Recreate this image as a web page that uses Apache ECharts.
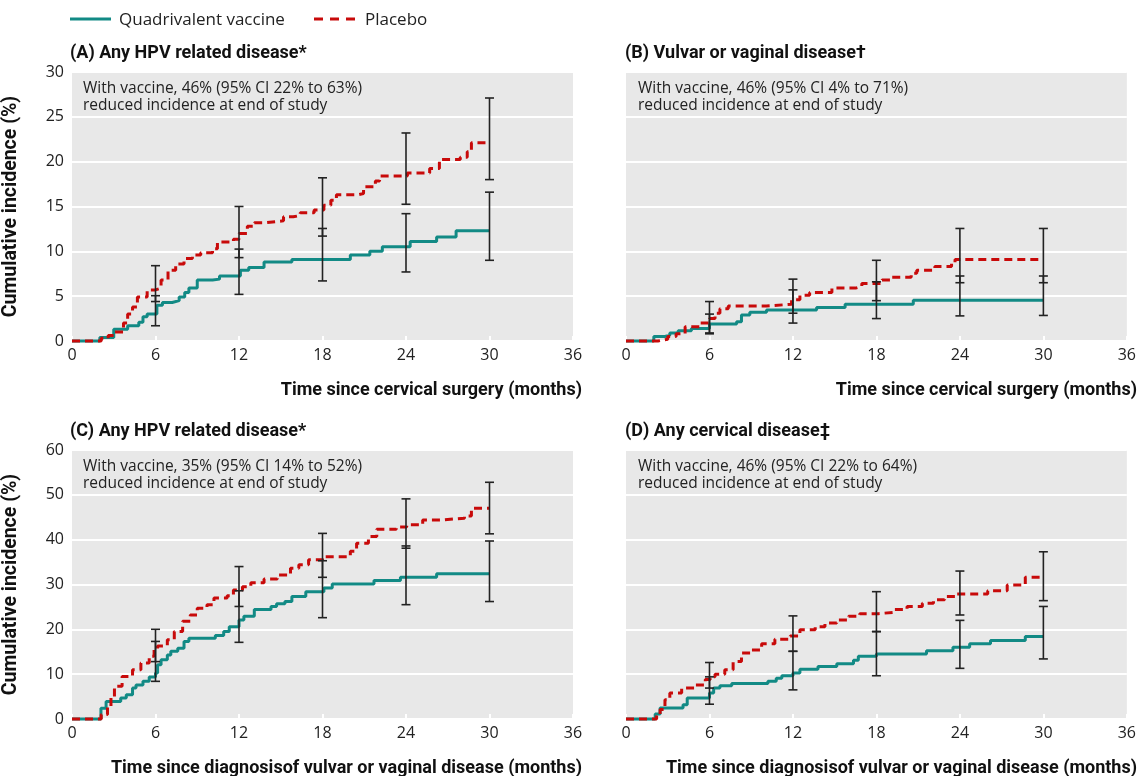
<!DOCTYPE html>
<html>
<head>
<meta charset="utf-8">
<script src="https://cdn.jsdelivr.net/npm/echarts@6/dist/echarts.min.js"></script>
<style>
html,body{margin:0;padding:0;background:#fff;}
#chart{width:1139px;height:776px;}
</style>
</head>
<body>
<div id="chart"></div>
<script>
// ---------- data ----------
const xTicks = [0, 6, 12, 18, 24, 30, 36];
const yTicksTop = [0, 5, 10, 15, 20, 25, 30];
const yTicksBottom = [0, 10, 20, 30, 40, 50, 60];
const seriesNames = ['Quadrivalent vaccine', 'Placebo'];
const panelTitles = ['(A) Any HPV related disease*', '(B) Vulvar or vaginal disease\u2020', '(C) Any HPV related disease*', '(D) Any cervical disease\u2021'];
const panelNotes = [
  'With vaccine, 46% (95% CI 22% to 63%)\nreduced incidence at end of study',
  'With vaccine, 46% (95% CI 4% to 71%)\nreduced incidence at end of study',
  'With vaccine, 35% (95% CI 14% to 52%)\nreduced incidence at end of study',
  'With vaccine, 46% (95% CI 22% to 64%)\nreduced incidence at end of study'
];
const xTitles = ['Time since cervical surgery (months)', 'Time since cervical surgery (months)',
  'Time since diagnosisof vulvar or vaginal disease (months)', 'Time since diagnosisof vulvar or vaginal disease (months)'];
const yTitle = 'Cumulative incidence (%)';

const vaccineA = [[0,0],[2.0,0.4],[3.0,1.3],[4.0,1.7],[4.8,2.1],[5.1,2.7],[5.4,3.0],[6.1,4.0],[6.5,4.3],[7.2,4.5],[7.7,4.9],[8.1,5.4],[8.4,5.9],[9.0,6.8],[10.1,6.9],[10.6,7.25],[12.1,7.9],[12.7,8.2],[13.8,8.8],[15.8,9.1],[20.0,9.6],[21.4,10.0],[22.3,10.5],[24.3,11.1],[26.2,11.6],[27.6,12.3],[30,12.3]];
const placeboA = [[0,0],[2.1,0.3],[2.6,0.6],[3.0,1.0],[3.7,2.0],[4.0,3.0],[4.35,3.8],[4.7,4.9],[5.4,5.7],[6.0,5.9],[6.4,6.8],[6.9,7.9],[7.45,8.6],[8.05,9.2],[8.65,9.6],[9.25,9.85],[10.1,10.3],[10.45,11.05],[11.6,11.35],[12.0,12.0],[12.6,12.8],[13.1,13.2],[14.0,13.4],[15.2,13.85],[15.9,14.0],[16.4,14.3],[17.4,14.6],[18.1,15.15],[18.6,15.7],[19.0,16.3],[20.5,16.45],[20.95,17.2],[21.8,17.85],[22.1,18.4],[24.1,18.75],[25.7,19.25],[26.4,20.25],[27.9,20.5],[28.4,21.1],[28.7,22.1],[30,22.1]];
const ciVaccineA = [[6,1.7,5.05],[12,5.2,10.25],[18,6.7,12.55],[24,7.7,14.2],[30,9.0,16.6]];
const ciPlaceboA = [[6,4.4,8.4],[12,9.3,15.0],[18,11.7,18.2],[24,15.25,23.2],[30,18.0,27.1]];

const vaccineB = [[0,0],[2.0,0.5],[2.8,0.65],[3.15,0.9],[3.75,1.15],[4.7,1.4],[6.0,1.9],[7.95,2.15],[8.3,2.9],[8.9,3.2],[10.1,3.45],[13.7,3.75],[15.75,4.1],[20.65,4.55],[30,4.55]];
const placeboB = [[0,0],[2.3,0.2],[3.0,0.5],[3.6,0.8],[4.25,1.6],[5.3,2.0],[6.0,2.5],[6.4,3.1],[6.75,3.6],[7.35,3.9],[10.1,4.1],[11.9,4.6],[12.5,5.1],[13.2,5.4],[14.8,5.9],[16.5,6.1],[16.95,6.4],[18.4,6.8],[19.1,7.1],[20.5,7.55],[20.9,7.9],[22.2,8.3],[23.4,8.65],[23.65,9.1],[30,9.1]];
const ciVaccineB = [[6,0.8,3.0],[12,2.0,5.7],[18,2.5,6.6],[24,2.8,7.25],[30,2.85,7.25]];
const ciPlaceboB = [[6,0.9,4.4],[12,3.1,6.9],[18,4.5,9.0],[24,6.5,12.55],[30,6.5,12.55]];

const vaccineC = [[0,0],[2.08,2.4],[2.45,3.9],[3.5,4.7],[3.9,5.4],[4.35,6.9],[4.6,7.6],[5.1,8.4],[5.55,9.35],[6.0,10.25],[6.15,12.1],[6.4,13.2],[6.85,14.3],[7.1,15.1],[7.6,15.8],[8.05,17.3],[8.4,18.0],[10.3,18.6],[10.9,19.5],[11.3,20.6],[12.0,22.1],[12.35,22.9],[13.1,24.4],[14.3,25.1],[14.7,25.7],[15.3,26.2],[15.8,27.3],[16.8,28.4],[18.1,29.2],[18.7,30.1],[21.7,30.9],[23.6,31.6],[26.2,32.4],[30,32.4]];
const placeboC = [[0,0],[2.1,1.0],[2.55,2.8],[2.8,5.0],[3.05,7.3],[3.6,9.5],[4.35,11.0],[4.95,12.5],[5.55,14.0],[5.9,15.4],[6.15,16.3],[6.85,17.7],[7.35,19.5],[7.95,21.8],[8.5,23.2],[9.0,24.7],[9.7,25.5],[10.2,27.0],[11.15,27.5],[11.6,28.8],[12.25,29.5],[12.85,30.4],[13.8,31.2],[14.75,32.1],[15.7,33.6],[16.3,34.4],[17.0,35.5],[18.0,36.2],[20.0,37.4],[20.45,39.2],[21.3,40.7],[21.9,42.3],[23.3,42.8],[24.05,43.3],[25.2,44.4],[26.55,44.8],[28.2,45.3],[28.7,47.0],[30,47.0]];
const ciVaccineC = [[6,8.4,17.3],[12,17.1,28.6],[18,22.6,35.3],[24,25.5,38.6],[30,26.2,39.7]];
const ciPlaceboC = [[6,12.8,20.0],[12,25.1,34.0],[18,31.6,41.4],[24,38.1,49.1],[30,41.3,52.8]];

const vaccineD = [[0,0],[2.1,1.1],[2.45,2.45],[4.1,3.2],[4.4,4.7],[6.0,5.8],[6.3,6.9],[6.75,7.4],[7.6,7.9],[10.2,8.4],[10.8,9.1],[11.2,9.65],[12.0,10.25],[12.5,11.1],[13.8,11.7],[15.15,12.3],[16.35,13.1],[16.7,14.0],[18.0,14.5],[21.6,15.2],[23.5,16.0],[24.7,16.8],[26.2,17.5],[28.7,18.4],[30,18.4]];
const placeboD = [[0,0],[2.2,0.8],[2.45,2.1],[2.8,4.3],[3.15,5.8],[4.0,6.9],[4.95,7.6],[5.7,8.8],[6.05,9.4],[6.4,10.0],[7.1,11.0],[7.7,12.8],[8.3,14.7],[9.0,15.4],[9.75,16.8],[10.7,17.8],[11.8,18.5],[12.5,19.9],[13.6,20.6],[14.3,21.4],[15.15,22.1],[16.0,22.9],[16.8,23.5],[18.15,23.8],[19.3,24.4],[20.2,25.1],[21.3,25.8],[22.1,26.6],[22.9,27.3],[23.65,27.9],[26.0,28.6],[27.4,29.9],[28.7,31.6],[30,31.6]];
const ciVaccineD = [[6,3.3,9.4],[12,6.5,15.1],[18,9.65,19.5],[24,11.3,22.0],[30,13.4,25.1]];
const ciPlaceboD = [[6,6.9,12.6],[12,15.1,23.0],[18,19.5,28.4],[24,23.2,33.0],[30,26.4,37.3]];

// ---------- build ----------
const vaccineSets = [vaccineA, vaccineB, vaccineC, vaccineD];
const placeboSets = [placeboA, placeboB, placeboC, placeboD];
const ciVaccineSets = [ciVaccineA, ciVaccineB, ciVaccineC, ciVaccineD];
const ciPlaceboSets = [ciPlaceboA, ciPlaceboB, ciPlaceboC, ciPlaceboD];
const yTickSets = [yTicksTop, yTicksTop, yTicksBottom, yTicksBottom];

const TEAL = '#128a85';
const RED = '#c80a0a';
const BG = '#e8e8e8';
const FONT = "'Open Sans', 'Noto Sans', sans-serif";
const TFONT = "'Roboto', 'Open Sans', sans-serif";
const DASH = [8, 5];

const gridPos = [
  {left: 71, top: 72, width: 502, height: 269},
  {left: 626, top: 72, width: 501, height: 269},
  {left: 71, top: 450, width: 502, height: 269},
  {left: 626, top: 450, width: 501, height: 269}
];

const grids = gridPos.map(g => Object.assign({show: true, backgroundColor: BG, borderWidth: 0, containLabel: false}, g));

const xAxes = gridPos.map((g, i) => ({
  type: 'value', gridIndex: i, min: xTicks[0], max: xTicks[xTicks.length - 1],
  interval: xTicks[1] - xTicks[0],
  axisLine: {show: false},
  axisTick: {show: true, inside: true, length: 5, lineStyle: {color: '#fff', width: 2}},
  axisLabel: {show: true, fontSize: 16, color: '#222', margin: 6, fontFamily: FONT},
  splitLine: {show: false}
}));

const yAxes = gridPos.map((g, i) => {
  const t = yTickSets[i];
  const showLab = (i % 2 === 0);
  return {
    type: 'value', gridIndex: i, min: t[0], max: t[t.length - 1], interval: t[1] - t[0],
    axisLine: {show: false}, axisTick: {show: false},
    axisLabel: {show: showLab, fontSize: 16, color: '#222', margin: 8, fontFamily: FONT},
    splitLine: {show: true, lineStyle: {color: '#ffffff', width: 2}},
    name: showLab ? yTitle : '',
    nameLocation: 'middle', nameGap: 51, nameRotate: 90,
    nameTextStyle: {fontSize: 19.5, fontWeight: 'bold', color: '#111', fontFamily: TFONT}
  };
});

function errorBar(data, i, name) {
  return {
    type: 'custom', name: name + ' CI', xAxisIndex: i, yAxisIndex: i, z: 5, silent: true,
    clip: false,
    data: data,
    renderItem: function (params, api) {
      const x = api.value(0), lo = api.value(1), hi = api.value(2);
      const p1 = api.coord([x, lo]), p2 = api.coord([x, hi]);
      const cw = 4.5;
      const st = {stroke: '#222', lineWidth: 1.6};
      return {type: 'group', children: [
        {type: 'line', shape: {x1: p1[0], y1: p1[1], x2: p2[0], y2: p2[1]}, style: st},
        {type: 'line', shape: {x1: p1[0] - cw, y1: p1[1], x2: p1[0] + cw, y2: p1[1]}, style: st},
        {type: 'line', shape: {x1: p2[0] - cw, y1: p2[1], x2: p2[0] + cw, y2: p2[1]}, style: st}
      ]};
    }
  };
}

const series = [];
gridPos.forEach((g, i) => {
  series.push({
    type: 'line', name: seriesNames[0], xAxisIndex: i, yAxisIndex: i, step: 'end',
    data: vaccineSets[i], showSymbol: false, symbol: 'none', clip: false, z: 2,
    lineStyle: {color: TEAL, width: 3}, itemStyle: {color: TEAL}
  });
  series.push({
    type: 'line', name: seriesNames[1], xAxisIndex: i, yAxisIndex: i, step: 'end',
    data: placeboSets[i], showSymbol: false, symbol: 'none', clip: false, z: 3,
    lineStyle: {color: RED, width: 3, type: DASH}, itemStyle: {color: RED}
  });
  series.push(errorBar(ciVaccineSets[i], i, seriesNames[0]));
  series.push(errorBar(ciPlaceboSets[i], i, seriesNames[1]));
});

const graphics = [];
// legend drawn as graphic elements
graphics.push({type: 'line', shape: {x1: 70, y1: 19, x2: 111, y2: 19}, style: {stroke: TEAL, lineWidth: 3}});
graphics.push({type: 'text', style: {x: 119, y: 20, text: seriesNames[0], font: "17px " + FONT, fill: '#222', verticalAlign: 'middle'}});
graphics.push({type: 'line', shape: {x1: 314, y1: 19, x2: 357, y2: 19}, style: {stroke: RED, lineWidth: 3, lineDash: [9, 7]}});
graphics.push({type: 'text', style: {x: 365, y: 20, text: seriesNames[1], font: "17px " + FONT, fill: '#222', verticalAlign: 'middle'}});

gridPos.forEach((g, i) => {
  graphics.push({type: 'text',
    style: {x: g.left - 1, y: g.top - 19, text: panelTitles[i], font: "bold 18px " + TFONT, fill: '#111', verticalAlign: 'middle'}});
  graphics.push({type: 'text',
    style: {x: g.left + 12, y: g.top + 8, text: panelNotes[i], font: "15.5px " + FONT, fill: '#222', lineHeight: 17, verticalAlign: 'top'}});
  graphics.push({type: 'text',
    style: {x: (i % 2 === 0) ? 582 : 1137, y: g.top + g.height + 49, text: xTitles[i], font: "bold 18px " + TFONT, fill: '#111', align: 'right', verticalAlign: 'middle'}});
});

const option = {
  animation: false,
  backgroundColor: '#ffffff',
  grid: grids,
  xAxis: xAxes,
  yAxis: yAxes,
  series: series,
  graphic: graphics
};

const chart = echarts.init(document.getElementById('chart'), null, {renderer: 'canvas'});
chart.setOption(option);
</script>
</body>
</html>
